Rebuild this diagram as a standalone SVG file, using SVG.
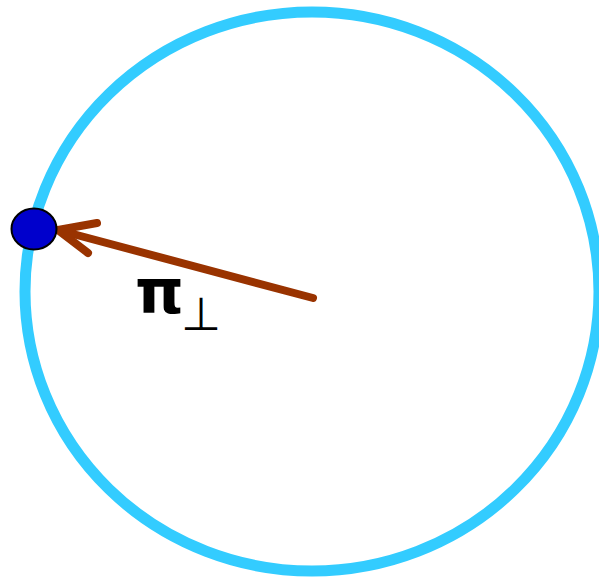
<svg xmlns="http://www.w3.org/2000/svg" width="599" height="580" viewBox="0 0 599 580">
<style>
.orbit{fill:none;stroke:#33CCFF;stroke-width:11}
.vec{fill:none;stroke:#993300;stroke-width:8;stroke-linecap:round;stroke-linejoin:round}
.lbl{fill:#000;font-family:"DejaVu Sans",sans-serif}
</style>
<rect width="599" height="580" fill="#fff"/>
<g id="orbit"><ellipse class="orbit" cx="312" cy="291.5" rx="287" ry="279.5"/></g>
<g id="connectors">
<path class="vec" d="M313,298 L58,230"/>
<path class="vec" d="M97,223 L58,230 L88,253"/>
</g>
<g id="particle"><ellipse cx="34" cy="229" rx="22.5" ry="20.5" fill="#0000CC" stroke="#000" stroke-width="2"/></g>
<g id="label">
<text class="lbl" x="135" y="313" font-size="62" font-weight="bold">π</text>
<text class="lbl" x="181" y="330" font-size="46">⊥</text>
</g>
</svg>
